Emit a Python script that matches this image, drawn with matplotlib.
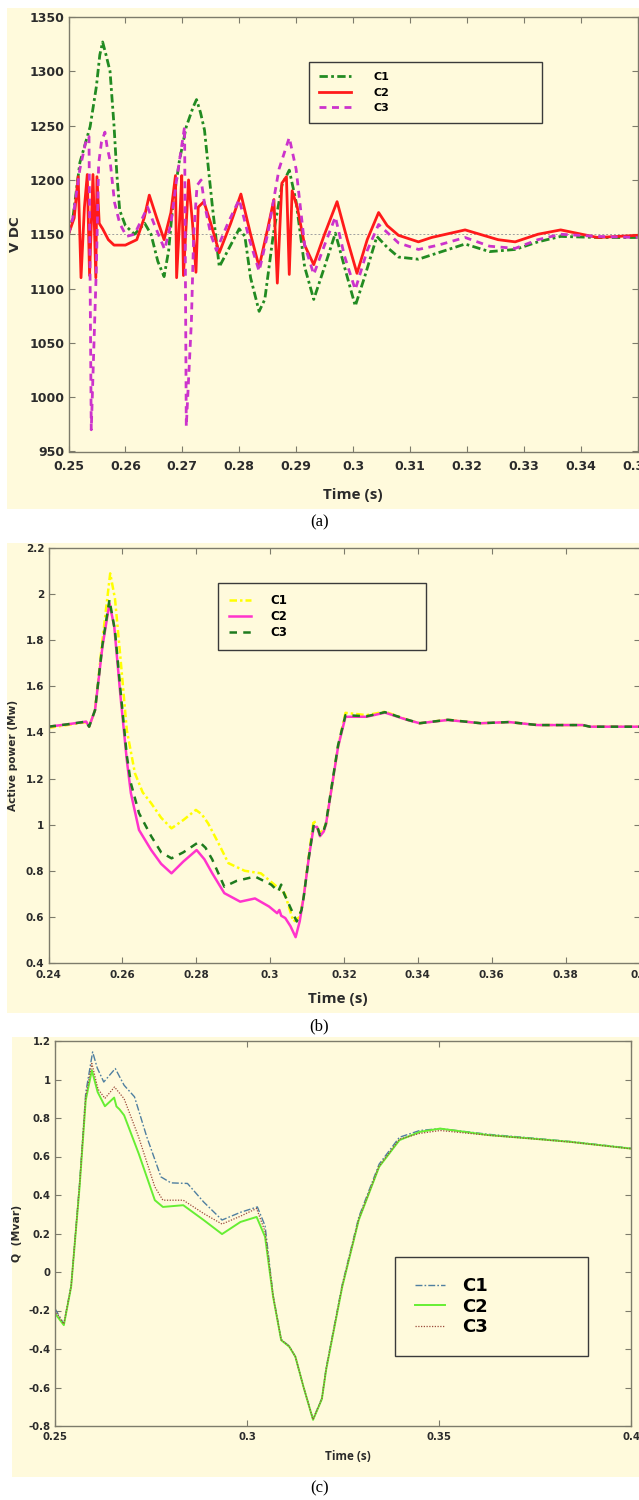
import matplotlib
matplotlib.use("Agg")
import matplotlib.pyplot as plt
from matplotlib.patches import Rectangle

plt.rcParams["axes.unicode_minus"] = False

# ---------------- (a) DC voltage ----------------
t_a_c1 = [0.2500, 0.2508, 0.2520, 0.2538, 0.2549, 0.2555, 0.2560, 0.2566, 0.2573, 0.2580,
          0.2585, 0.2590, 0.2600, 0.2616, 0.2634, 0.2645, 0.2657, 0.2668, 0.2676, 0.2683,
          0.2695, 0.2707, 0.2719, 0.2725, 0.2732, 0.2739, 0.2746, 0.2753, 0.2765, 0.2780,
          0.2800, 0.2810, 0.2820, 0.2835, 0.2845, 0.2860, 0.2875, 0.2888, 0.2900, 0.2915,
          0.2931, 0.2950, 0.2969, 0.2985, 0.3004, 0.3020, 0.3042, 0.3060, 0.3080, 0.3115,
          0.3150, 0.3197, 0.3240, 0.3285, 0.3325, 0.3365, 0.3430, 0.3500]
v_a_c1 = [1150, 1166, 1216, 1249, 1286, 1315, 1327, 1315, 1300, 1250,
          1205, 1172, 1158, 1150, 1160, 1150, 1125, 1111, 1135, 1175,
          1218, 1249, 1267, 1274, 1262, 1246, 1210, 1175, 1120, 1135,
          1155, 1148, 1110, 1079, 1090, 1150, 1195, 1209, 1180, 1120,
          1090, 1120, 1151, 1120, 1084, 1110, 1148, 1138, 1129, 1127,
          1133, 1141, 1134, 1136, 1143, 1148, 1147, 1147]

t_a_c2 = [0.2500, 0.2510, 0.2517, 0.2522, 0.2528, 0.2533, 0.2537, 0.2543, 0.2548, 0.2550,
          0.2554, 0.2560, 0.2570, 0.2580, 0.2600, 0.2620, 0.2633, 0.2642, 0.2655, 0.2668,
          0.2680, 0.2688, 0.2690, 0.2697, 0.2699, 0.2702, 0.2708, 0.2711, 0.2718, 0.2724,
          0.2728, 0.2738, 0.2750, 0.2765, 0.2785, 0.2803, 0.2820, 0.2835, 0.2850, 0.2861,
          0.2867, 0.2875, 0.2883, 0.2888, 0.2893, 0.2902, 0.2915, 0.2931, 0.2950, 0.2972,
          0.2990, 0.3007, 0.3025, 0.3045, 0.3060, 0.3080, 0.3115, 0.3138, 0.3197, 0.3255,
          0.3285, 0.3325, 0.3365, 0.3430, 0.3500]
v_a_c2 = [1150, 1165, 1203, 1110, 1175, 1205, 1112, 1205, 1110, 1203,
          1160, 1155, 1145, 1140, 1140, 1145, 1165, 1186, 1165, 1145,
          1170, 1204, 1110, 1180, 1204, 1112, 1170, 1200, 1160, 1115,
          1175, 1180, 1160, 1133, 1160, 1187, 1150, 1120, 1155, 1182,
          1105, 1197, 1203, 1113, 1190, 1175, 1140, 1122, 1150, 1180,
          1145, 1114, 1145, 1170, 1158, 1149, 1143, 1147, 1154, 1145,
          1143, 1150, 1154, 1147, 1149]

t_a_c3 = [0.2500, 0.2508, 0.2520, 0.2530, 0.2536, 0.2540, 0.2549, 0.2553, 0.2558, 0.2564,
          0.2568, 0.2573, 0.2581, 0.2590, 0.2602, 0.2616, 0.2630, 0.2639, 0.2650, 0.2669,
          0.2680, 0.2690, 0.2700, 0.2704, 0.2707, 0.2716, 0.2720, 0.2726, 0.2733, 0.2740,
          0.2750, 0.2760, 0.2780, 0.2800, 0.2818, 0.2835, 0.2850, 0.2870, 0.2888, 0.2900,
          0.2915, 0.2931, 0.2950, 0.2969, 0.2985, 0.3004, 0.3025, 0.3045, 0.3080, 0.3115,
          0.3150, 0.3197, 0.3240, 0.3285, 0.3325, 0.3365, 0.3430, 0.3500]
v_a_c3 = [1150, 1166, 1210, 1234, 1240, 970, 1120, 1215, 1235, 1244,
          1230, 1218, 1179, 1160, 1148, 1150, 1165, 1175, 1160, 1136,
          1160, 1200, 1235, 1249, 973, 1070, 1150, 1195, 1200, 1175,
          1150, 1135, 1160, 1182, 1145, 1116, 1150, 1210, 1239, 1210,
          1140, 1113, 1140, 1166, 1130, 1099, 1135, 1159, 1142, 1136,
          1140, 1147, 1139, 1137, 1145, 1150, 1148, 1147]

# ---------------- (b) active power ----------------
t_b_c1 = [0.2400, 0.2450, 0.2502, 0.2510, 0.2526, 0.2546, 0.2567, 0.2580, 0.2595, 0.2612,
          0.2634, 0.2655, 0.2678, 0.2705, 0.2733, 0.2765, 0.2799, 0.2815, 0.2832, 0.2860,
          0.2887, 0.2931, 0.2975, 0.3019, 0.3040, 0.3063, 0.3080, 0.3091, 0.3105, 0.3118,
          0.3135, 0.3151, 0.3184, 0.3204, 0.3261, 0.3311, 0.3372, 0.3405, 0.3481, 0.3570,
          0.3647, 0.3724, 0.3846, 0.3866, 0.4000]
p_b_c1 = [1.420, 1.432, 1.445, 1.425, 1.497, 1.800, 2.090, 1.980, 1.720, 1.410,
          1.223, 1.140, 1.093, 1.030, 0.984, 1.020, 1.064, 1.045, 1.006, 0.920,
          0.833, 0.800, 0.789, 0.730, 0.700, 0.580, 0.600, 0.688, 0.870, 1.020,
          0.960, 1.000, 1.340, 1.485, 1.475, 1.490, 1.455, 1.440, 1.455, 1.440,
          1.445, 1.432, 1.432, 1.425, 1.425]

t_b_c2 = [0.2400, 0.2450, 0.2502, 0.2510, 0.2526, 0.2546, 0.2565, 0.2578, 0.2595, 0.2612,
          0.2623, 0.2645, 0.2678, 0.2705, 0.2733, 0.2765, 0.2801, 0.2822, 0.2843, 0.2876,
          0.2919, 0.2959, 0.2997, 0.3019, 0.3025, 0.3030, 0.3041, 0.3055, 0.3069, 0.3080,
          0.3091, 0.3105, 0.3118, 0.3127, 0.3135, 0.3145, 0.3151, 0.3184, 0.3204, 0.3261,
          0.3311, 0.3372, 0.3405, 0.3481, 0.3570, 0.3647, 0.3724, 0.3846, 0.3866, 0.4000]
p_b_c2 = [1.425, 1.435, 1.447, 1.425, 1.497, 1.772, 1.960, 1.859, 1.555, 1.280,
          1.137, 0.977, 0.890, 0.830, 0.789, 0.840, 0.890, 0.850, 0.790, 0.703,
          0.666, 0.680, 0.645, 0.616, 0.630, 0.605, 0.595, 0.560, 0.512, 0.580,
          0.688, 0.860, 0.991, 0.990, 0.950, 0.970, 1.000, 1.338, 1.468, 1.468,
          1.486, 1.454, 1.440, 1.454, 1.440, 1.445, 1.432, 1.432, 1.425, 1.425]

t_b_c3 = [0.2400, 0.2450, 0.2502, 0.2510, 0.2526, 0.2546, 0.2565, 0.2580, 0.2595, 0.2612,
          0.2623, 0.2645, 0.2678, 0.2705, 0.2733, 0.2765, 0.2808, 0.2825, 0.2843, 0.2876,
          0.2909, 0.2959, 0.3003, 0.3022, 0.3030, 0.3038, 0.3055, 0.3072, 0.3085, 0.3091,
          0.3105, 0.3118, 0.3127, 0.3135, 0.3145, 0.3151, 0.3184, 0.3204, 0.3261, 0.3311,
          0.3372, 0.3405, 0.3481, 0.3570, 0.3647, 0.3724, 0.3846, 0.3866, 0.4000]
p_b_c3 = [1.425, 1.435, 1.447, 1.425, 1.497, 1.780, 1.975, 1.840, 1.580, 1.300,
          1.180, 1.050, 0.950, 0.880, 0.854, 0.880, 0.926, 0.900, 0.850, 0.731,
          0.756, 0.775, 0.740, 0.710, 0.740, 0.700, 0.640, 0.580, 0.630, 0.688,
          0.860, 1.000, 0.995, 0.955, 0.975, 1.005, 1.345, 1.475, 1.470, 1.488,
          1.455, 1.440, 1.455, 1.440, 1.445, 1.432, 1.432, 1.425, 1.425]

# ---------------- (c) reactive power ----------------
t_c_c1 = [0.2500, 0.2523, 0.2542, 0.2564, 0.2580, 0.2598, 0.2610, 0.2627, 0.2657, 0.2680,
          0.2707, 0.2739, 0.2776, 0.2802, 0.2845, 0.2887, 0.2935, 0.2983, 0.3027, 0.3047,
          0.3068, 0.3089, 0.3110, 0.3126, 0.3147, 0.3172, 0.3195, 0.3206, 0.3248, 0.3291,
          0.3344, 0.3397, 0.3450, 0.3503, 0.3630, 0.3736, 0.3842, 0.4000]
q_c_c1 = [-0.190, -0.270, -0.070, 0.460, 0.930, 1.143, 1.060, 0.987, 1.057, 0.970,
          0.910, 0.702, 0.494, 0.463, 0.460, 0.364, 0.270, 0.310, 0.338, 0.240,
          -0.120, -0.350, -0.385, -0.440, -0.596, -0.765, -0.655, -0.500, -0.065, 0.285,
          0.560, 0.700, 0.735, 0.745, 0.715, 0.697, 0.678, 0.643]

t_c_c2 = [0.2500, 0.2523, 0.2542, 0.2564, 0.2580, 0.2596, 0.2611, 0.2630, 0.2654, 0.2660,
          0.2668, 0.2680, 0.2718, 0.2760, 0.2781, 0.2834, 0.2887, 0.2935, 0.2983, 0.3025,
          0.3047, 0.3068, 0.3089, 0.3110, 0.3126, 0.3147, 0.3172, 0.3195, 0.3206, 0.3248,
          0.3291, 0.3344, 0.3397, 0.3450, 0.3503, 0.3630, 0.3736, 0.3842, 0.4000]
q_c_c2 = [-0.215, -0.276, -0.077, 0.442, 0.892, 1.048, 0.935, 0.861, 0.906, 0.860,
          0.845, 0.814, 0.615, 0.373, 0.338, 0.347, 0.270, 0.197, 0.260, 0.286,
          0.183, -0.129, -0.354, -0.388, -0.440, -0.596, -0.768, -0.660, -0.509, -0.077,
          0.270, 0.546, 0.685, 0.728, 0.745, 0.711, 0.694, 0.676, 0.641]

t_c_c3 = [0.2500, 0.2523, 0.2542, 0.2564, 0.2580, 0.2596, 0.2612, 0.2630, 0.2655, 0.2680,
          0.2718, 0.2760, 0.2781, 0.2834, 0.2887, 0.2935, 0.2983, 0.3025, 0.3047, 0.3068,
          0.3089, 0.3110, 0.3126, 0.3147, 0.3172, 0.3195, 0.3206, 0.3248, 0.3291, 0.3344,
          0.3397, 0.3450, 0.3503, 0.3630, 0.3736, 0.3842, 0.4000]
q_c_c3 = [-0.200, -0.270, -0.075, 0.450, 0.910, 1.083, 0.950, 0.902, 0.961, 0.900,
          0.700, 0.442, 0.373, 0.373, 0.304, 0.249, 0.290, 0.330, 0.210, -0.125,
          -0.352, -0.386, -0.440, -0.596, -0.766, -0.658, -0.505, -0.072, 0.275, 0.550,
          0.690, 0.720, 0.735, 0.710, 0.693, 0.675, 0.640]

ticks_a_x = [0.25, 0.26, 0.27, 0.28, 0.29, 0.30, 0.31, 0.32, 0.33, 0.34, 0.35]
ticks_a_y = [950, 1000, 1050, 1100, 1150, 1200, 1250, 1300, 1350]
ticks_b_x = [0.24, 0.26, 0.28, 0.30, 0.32, 0.34, 0.36, 0.38, 0.40]
ticks_b_y = [0.4, 0.6, 0.8, 1.0, 1.2, 1.4, 1.6, 1.8, 2.0, 2.2]
ticks_c_x = [0.25, 0.30, 0.35, 0.40]
ticks_c_y = [-0.8, -0.6, -0.4, -0.2, 0.0, 0.2, 0.4, 0.6, 0.8, 1.0, 1.2]

W, H = 639, 1500
CREAM = "#fffadc"
SPINE = "#7d7b6b"
TXT = "#2b2b2b"


def px_axes(fig, left, top, right, bottom):
    return fig.add_axes([left / W, 1 - bottom / H, (right - left) / W, (bottom - top) / H])


def cream_box(fig, left, top, right, bottom):
    fig.add_artist(Rectangle((left / W, 1 - bottom / H), (right - left) / W, (bottom - top) / H,
                             transform=fig.transFigure, color=CREAM, zorder=0, lw=0))


def style_axes(ax, xt, yt, tick_fs, xpad):
    ax.set_facecolor(CREAM)
    for s in ax.spines.values():
        s.set_color(SPINE)
        s.set_linewidth(1.0)
    ax.set_xticks(xt)
    ax.set_yticks(yt)
    ax.set_xticklabels(["%g" % v for v in xt])
    ax.set_yticklabels(["%g" % round(v, 2) for v in yt])
    ax.tick_params(direction="in", top=True, right=True, length=4, width=0.8,
                   color=SPINE, labelsize=tick_fs, labelcolor=TXT, pad=3)
    ax.tick_params(axis="x", pad=xpad)
    for lab in ax.get_xticklabels() + ax.get_yticklabels():
        lab.set_fontweight("bold")
        lab.set_family("DejaVu Sans")


def add_legend(ax, x0, top, w, fs, **kw):
    leg = ax.legend(loc="upper left", bbox_to_anchor=(x0, top - 0.1, w, 0.1), mode="expand",
                    borderaxespad=0, fancybox=False, framealpha=1, facecolor=CREAM,
                    edgecolor="#3a3a3a", prop={"family": "DejaVu Sans", "weight": "bold", "size": fs},
                    **kw)
    leg.get_frame().set_linewidth(1.0)
    return leg


fig = plt.figure(figsize=(W / 100, H / 100), dpi=100)
fig.patch.set_facecolor("white")

cream_box(fig, 7, 8, 639, 509)
cream_box(fig, 7, 543, 639, 1013)
cream_box(fig, 12, 1037, 639, 1477)

# (a)
ax = px_axes(fig, 68.5, 17, 637.5, 451.5)
ax.axhline(1150, color="#a0a0a0", lw=0.7, ls=(0, (2, 2)), zorder=1)
ax.plot(t_a_c1, v_a_c1, color="#228b22", lw=2.0, ls=(0, (3.0, 1.2, 1.0, 1.2)), label="C1")
ax.plot(t_a_c2, v_a_c2, color="#ff1a1a", lw=2.0, label="C2")
ax.plot(t_a_c3, v_a_c3, color="#cc33cc", lw=2.0, ls=(0, (2.5, 2.0)), label="C3")
ax.set_xlim(0.25, 0.35)
ax.set_ylim(950, 1350)
style_axes(ax, ticks_a_x, ticks_a_y, 9, 6)
ax.set_ylabel("V DC", fontsize=9.5, fontweight="bold", family="DejaVu Sans", color=TXT)
ax.yaxis.set_label_coords(-0.082, 0.5)
ax.set_xlabel("Time (s)", fontsize=11, fontweight="bold", family="Open Sans", color=TXT)
ax.xaxis.set_label_coords(0.5, -0.085)
add_legend(ax, 0.4227, 0.8964, 0.4095, 8, handlelength=2.9, handletextpad=2.0,
           labelspacing=0.5, borderpad=0.9)
fig.text(0.5, 1 - 522 / H, "(a)", ha="center", va="center", fontsize=12, family="Liberation Serif")

# (b)
ax = px_axes(fig, 48.5, 548, 639.5, 963)
ax.plot(t_b_c1, p_b_c1, color="#ffff00", lw=1.8, ls=(0, (3.0, 1.2, 1.0, 1.2)), label="C1")
ax.plot(t_b_c2, p_b_c2, color="#ff33cc", lw=1.8, label="C2")
ax.plot(t_b_c3, p_b_c3, color="#1e7b1e", lw=1.8, ls=(0, (3.0, 2.5)), label="C3")
ax.set_xlim(0.24, 0.40)
ax.set_ylim(0.4, 2.2)
style_axes(ax, ticks_b_x, ticks_b_y, 7.5, 5)
ax.set_ylabel("Active power (Mw)", fontsize=7.6, fontweight="bold", family="DejaVu Sans", color=TXT)
ax.yaxis.set_label_coords(-0.051, 0.5)
ax.set_xlabel("Time (s)", fontsize=11, fontweight="bold", family="Open Sans", color=TXT)
ax.xaxis.set_label_coords(0.489, -0.07)
add_legend(ax, 0.286, 0.9157, 0.352, 8.5, handlelength=1.9, handletextpad=1.6,
           labelspacing=0.25, borderpad=0.95)
fig.text(0.5, 1 - 1026 / H, "(b)", ha="center", va="center", fontsize=12, family="Liberation Serif")

# (c)
ax = px_axes(fig, 55, 1041, 631, 1426)
ax.plot(t_c_c1, q_c_c1, color="#4f7fa0", lw=1.0, ls=(0, (5, 1.5, 1.2, 1.5)), label="C1")
ax.plot(t_c_c2, q_c_c2, color="#66ee33", lw=1.4, label="C2")
ax.plot(t_c_c3, q_c_c3, color="#9b4a3a", lw=0.9, ls=(0, (1, 1.2)), label="C3")
ax.set_xlim(0.25, 0.40)
ax.set_ylim(-0.8, 1.2)
style_axes(ax, ticks_c_x, ticks_c_y, 7.3, 4)
ax.set_ylabel("Q  (Mvar)", fontsize=7.8, fontweight="bold", family="DejaVu Sans", color=TXT)
ax.yaxis.set_label_coords(-0.057, 0.5)
ax.set_xlabel("Time (s)", fontsize=8.5, fontweight="bold", family="Open Sans", color=TXT)
ax.xaxis.set_label_coords(0.509, -0.062)
add_legend(ax, 0.590, 0.4386, 0.335, 13, handlelength=1.7, handletextpad=0.9,
           labelspacing=0.15, borderpad=1.1)
fig.text(0.5, 1 - 1488 / H, "(c)", ha="center", va="center", fontsize=12, family="Liberation Serif")

fig.savefig("out.png", dpi=100)
